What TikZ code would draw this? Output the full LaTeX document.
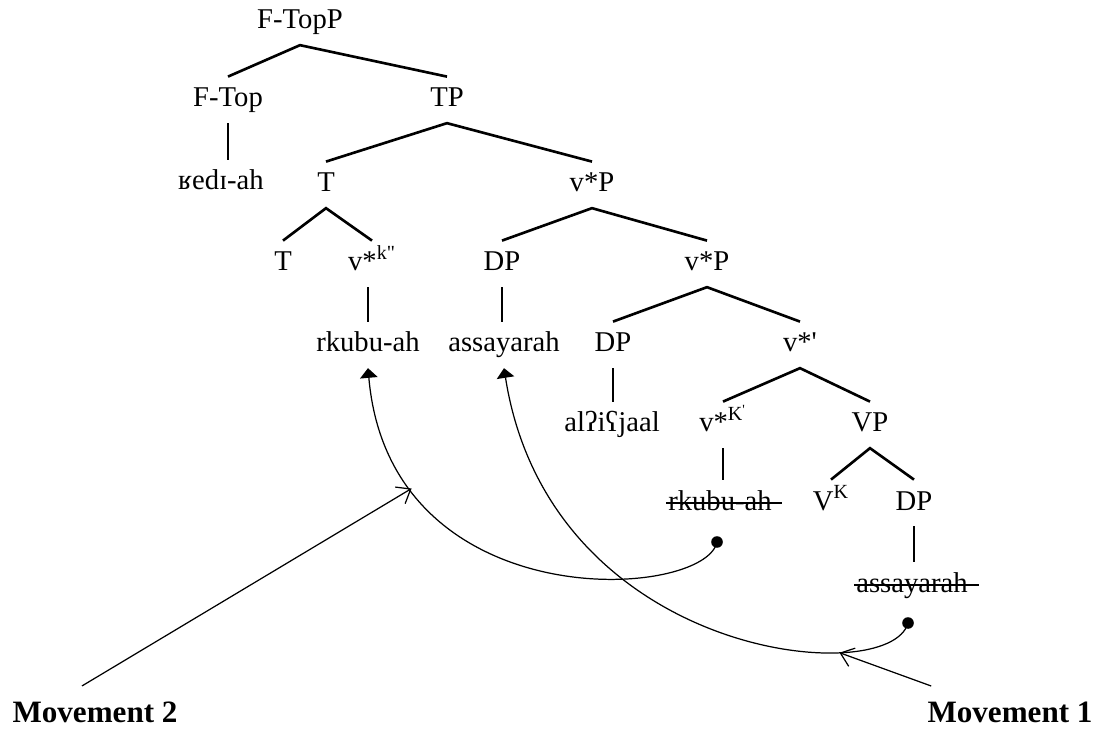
\documentclass[tikz,border=0pt]{standalone}
\usepackage{fontspec}
\setmainfont{Liberation Serif}
\usepackage{tikz}
\usetikzlibrary{arrows.meta}

\begin{document}
\begin{tikzpicture}[x=0.02cm,y=-0.02cm,
    cat/.style={anchor=base,font=\fontsize{16.3pt}{19pt}\selectfont,
      text height=11.4pt,text depth=3.3pt,inner xsep=1pt,inner ysep=5.7pt},
    branch/.style={line width=1.5pt},
    gone/.style={line width=0.6pt},
    move/.style={line width=0.7pt,-{Triangle[length=5.5pt,width=10pt]}},
    pointer/.style={line width=0.7pt,-{Straight Barb[length=7pt,width=11pt]}},
    dot/.style={circle,fill,inner sep=0pt,minimum size=6.6pt},
    mvlbl/.style={anchor=base,font=\fontsize{17.7pt}{21pt}\selectfont\bfseries,
      inner xsep=0pt,inner ysep=8.6pt}]
    \useasboundingbox (0,0) rectangle (1099,729);

    % the tree
    \node[cat] (ftopp) at (300,29) {F-TopP};
    \node[cat] (ftop) at (228,107) {F-Top};
    \node[cat] (tp) at (447,107) {TP};
    \node[cat] (redi) at (221,190) {ʁedɪ-ah};
    \node[cat] (t1) at (326,192) {T};
    \node[cat] (vp1) at (592,192) {v*P};
    \node[cat] (t2) at (283,271) {T};
    \node[cat] (vk2) at (372,271) {v*\textsuperscript{k\textquotedbl}};
    \node[cat] (dp1) at (502,271) {DP};
    \node[cat] (vp2) at (707,271) {v*P};
    \node[cat] (rk1) at (368,352) {rkubu-ah};
    \node[cat] (as1) at (504,352) {assayarah};
    \node[cat] (dp2) at (613,352) {DP};
    \node[cat] (vbar) at (800,352) {v*\textquotesingle};
    \node[cat] (al) at (612,432) {alʔiʕjaal};
    \node[cat] (vk1) at (723,432) {v*\textsuperscript{K\textsuperscript{\textquotesingle}}};
    \node[cat] (vp3) at (870,432) {VP};
    \node[cat] (rk2) at (720,510) {rkubu-ah};
    \node[cat] (vv) at (831,510) {V\textsuperscript{K}};
    \node[cat] (dp3) at (914,510) {DP};
    \node[cat] (as2) at (912,592) {assayarah};

    \draw[branch] (ftop.north) -- (ftopp.south) -- (tp.north);
    \draw[branch] (t1.north) -- (tp.south) -- (vp1.north);
    \draw[branch] (t2.north) -- (t1.south) -- (vk2.north);
    \draw[branch] (dp1.north) -- (vp1.south) -- (vp2.north);
    \draw[branch] (dp2.north) -- (vp2.south) -- (vbar.north);
    \draw[branch] (vk1.north) -- (vbar.south) -- (vp3.north);
    \draw[branch] (vv.north) -- (vp3.south) -- (dp3.north);

    \draw[branch] (ftop.south) -- (ftop.south |- redi.north);
    \draw[branch] (rk1.north |- vk2.south) -- (rk1.north);
    \draw[branch] (dp1.south) -- (dp1.south |- as1.north);
    \draw[branch] (dp2.south) -- (dp2.south |- al.north);
    \draw[branch] (vk1.south) -- (vk1.south |- rk2.north);
    \draw[branch] (dp3.south) -- (dp3.south |- as2.north);

    % struck-out copies
    \draw[gone] ([yshift=0.14cm]rk2.base west) -- ([yshift=0.14cm,xshift=0.16cm]rk2.base east);
    \draw[gone] ([yshift=0.14cm]as2.base west) -- ([yshift=0.14cm,xshift=0.18cm]as2.base east);

    % movement
    \node[dot] (d1) at (717,542) {};
    \node[dot] (d2) at (908,623) {};
    \draw[move] (d1.center) .. controls (705,600) and (390,620) .. (rk1.south)
        coordinate[pos=.8] (m2);
    \draw[move] (d2.center) .. controls (890,690) and (550,660) .. (as1.south)
        coordinate[pos=.26] (m1);

    \node[mvlbl] (mv2) at (95,722) {Movement 2};
    \node[mvlbl] (mv1) at (1010,722) {Movement 1};
    \draw[pointer] ([xshift=-0.26cm]mv2.north) -- (m2);
    \draw[pointer] ([xshift=0.08cm]mv1.north west) -- (m1);
\end{tikzpicture}
\end{document}
